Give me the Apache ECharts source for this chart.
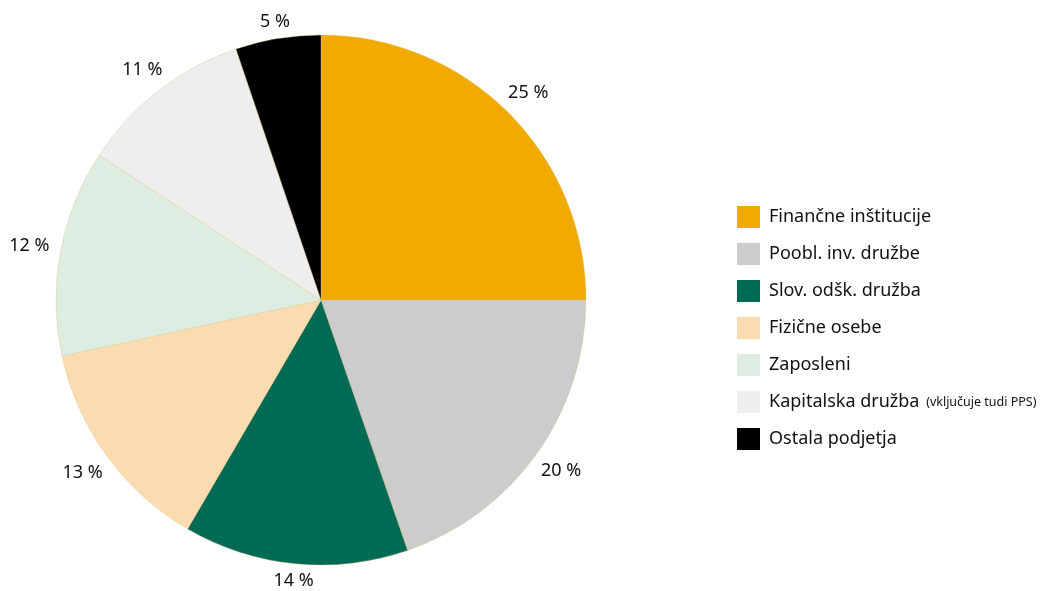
<!DOCTYPE html>
<html lang="sl">
<head>
    <meta charset="utf-8">
    <title>Lastniška struktura</title>
    <script src="https://cdn.jsdelivr.net/npm/echarts@6/dist/echarts.min.js"></script>
    <style>
        html, body, #main {
            width: 100%;
            height: 100%;
            margin: 0;
            padding: 0;
            overflow: hidden;
            background-color: #ffffff;
        }
    </style>
</head>
<body>
<div id="main"></div>
<script>
    // podatki (deleži odčitani s slike, oznake kot so napisane)
    var categories = ['Finančne inštitucije', 'Poobl. inv. družbe', 'Slov. odšk. družba',
        'Fizične osebe', 'Zaposleni', 'Kapitalska družba', 'Ostala podjetja'];
    var values = [25.0, 19.7, 13.7, 13.2, 12.6, 10.6, 5.2];
    var labels = ['25 %', '20 %', '14 %', '13 %', '12 %', '11 %', '5 %'];
    var colors = ['#f0aa00', '#cccccc', '#006a55', '#fadcb0', '#ddede1', '#eeeeee', '#000000'];

    var font = 'Noto Sans';
    var labelSize = 18;
    var cx = 321, cy = 300, r = 265;
    var labelBase = 273;

    // širina besedila za odmik oznak od roba
    var ctx = document.createElement('canvas').getContext('2d');
    ctx.font = labelSize + 'px "' + font + '"';

    var total = 0;
    for (var i = 0; i < values.length; i++) total += values[i];

    var pieData = [];
    var labelData = [];
    var acc = 0;
    for (var i = 0; i < categories.length; i++) {
        pieData.push({name: categories[i], value: values[i], itemStyle: {color: colors[i]}});
        var mid = (acc + values[i] / 2) / total * 2 * Math.PI;
        acc += values[i];
        var sx = Math.sin(mid), sy = -Math.cos(mid);
        var halfW = ctx.measureText(labels[i]).width / 2;
        var extra = halfW * Math.abs(sx) + 4 * Math.abs(sy);
        labelData.push({
            name: categories[i],
            value: values[i],
            label: {formatter: labels[i], offset: [sx * extra, sy * extra]}
        });
    }

    var myChart = echarts.init(document.getElementById('main'));
    var option = {
        animation: false,
        legend: {
            orient: 'vertical',
            left: 732,
            top: 201,
            itemWidth: 23,
            itemHeight: 22,
            itemGap: 15,
            icon: 'rect',
            itemStyle: {borderWidth: 0},
            data: categories,
            formatter: function (name) {
                if (name === 'Kapitalska družba') {
                    return '{a|Kapitalska družba}  {b|(vključuje tudi PPS)}';
                }
                return '{a|' + name + '}';
            },
            textStyle: {
                rich: {
                    a: {fontFamily: font, fontSize: 18, lineHeight: 22, color: '#111', padding: [0, 0, 0, 4]},
                    b: {fontFamily: font, fontSize: 12.5, lineHeight: 22, color: '#111'}
                }
            }
        },
        series: [
            {
                type: 'pie',
                center: [cx, cy],
                radius: [0, r],
                startAngle: 90,
                clockwise: true,
                label: {show: false},
                labelLine: {show: false},
                emphasis: {disabled: true},
                itemStyle: {borderColor: 'rgba(225,190,120,0.7)', borderWidth: 0.5},
                data: pieData
            },
            {
                // nosilec oznak z odstotki
                type: 'pie',
                center: [cx, cy],
                radius: [labelBase - 10, labelBase + 10],
                startAngle: 90,
                clockwise: true,
                silent: true,
                legendHoverLink: false,
                itemStyle: {color: 'rgba(0,0,0,0)'},
                label: {
                    show: true,
                    position: 'inside',
                    fontFamily: font,
                    fontSize: labelSize,
                    color: '#111'
                },
                labelLine: {show: false},
                data: labelData
            }
        ]
    };
    myChart.setOption(option);
</script>
</body>
</html>
